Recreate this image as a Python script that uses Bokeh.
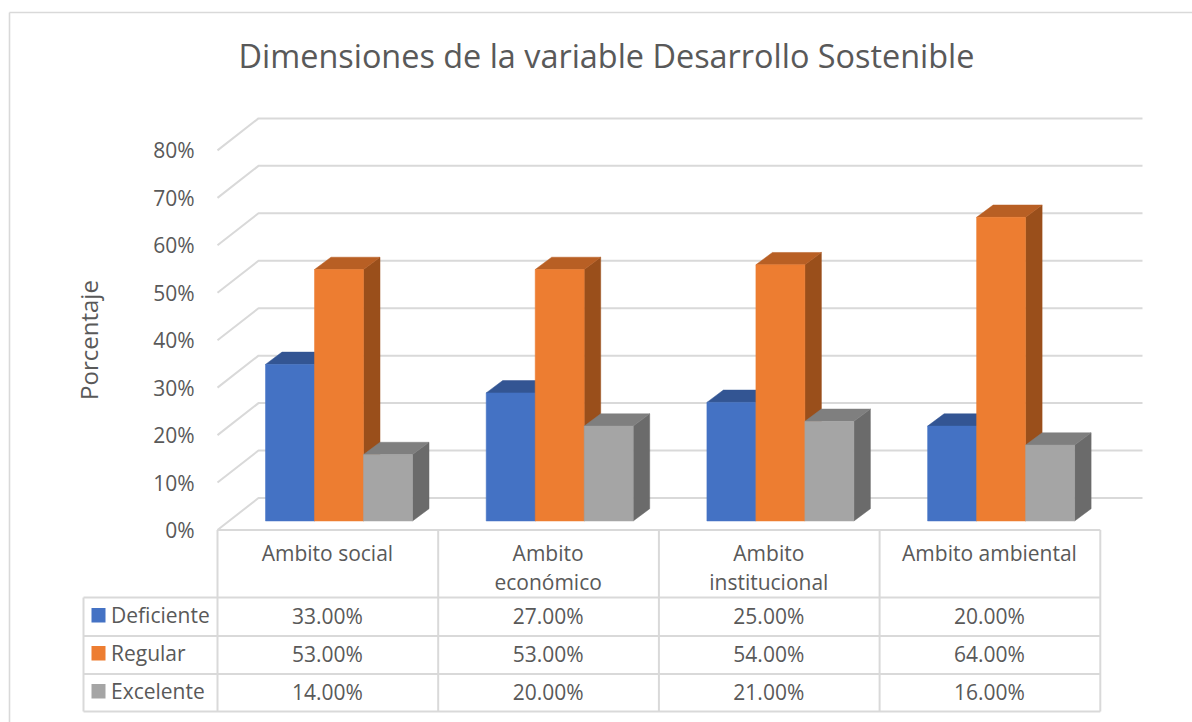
from math import pi
from bokeh.plotting import figure
from bokeh.models import FixedTicker, PrintfTickFormatter, Range1d
from bokeh.core.properties import value
from bokeh.embed import file_html
from bokeh.resources import INLINE

TITLE = "Dimensiones de la variable Desarrollo Sostenible"
Y_LABEL = "Porcentaje"
categories = ["Ambito social", "Ambito\neconómico", "Ambito\ninstitucional", "Ambito ambiental"]
series_names = ["Deficiente", "Regular", "Excelente"]
deficiente = [33, 27, 25, 20]
regular = [53, 53, 54, 64]
excelente = [14, 20, 21, 16]
y_ticks = [0, 10, 20, 30, 40, 50, 60, 70, 80]

FONT = "Open Sans"
TXT = "#595959"
GRID = "#D9D9D9"
front = ["#4472C4", "#ED7D31", "#A5A5A5"]
top_c = ["#335593", "#B85F24", "#7F7F7F"]
side_c = ["#2E4D85", "#9A4F1B", "#6B6B6B"]

W, H, OFF = 1192, 722, 0
CAT_PX = 220.7
PCT_PX = 4.745
X0_PX, Y0_PX = 217.0, 529.5


def dx(px):
    return (px - X0_PX) / CAT_PX


def dy(py):
    return (Y0_PX - py) / PCT_PX


p = figure(width=W, height=H, output_backend="svg", toolbar_location=None,
           x_range=Range1d(dx(OFF), dx(OFF + W)), y_range=Range1d(dy(OFF + H), dy(OFF)),
           min_border=0, outline_line_color=None, background_fill_color="white",
           border_fill_color="white")
p.xaxis.visible = False
p.grid.visible = False

# y axis placed on the front edge of the floor
ax = p.yaxis[0]
ax.fixed_location = 0
ax.ticker = FixedTicker(ticks=y_ticks)
ax.formatter = PrintfTickFormatter(format="%d%%")
ax.axis_line_color = None
ax.major_tick_line_color = None
ax.minor_tick_line_color = None
ax.major_tick_out = 0
ax.major_tick_in = 0
ax.major_label_standoff = 23
ax.major_label_text_font = FONT
ax.major_label_text_font_size = "21px"
ax.major_label_text_color = TXT

# chart border
p.multi_line([[dx(9), dx(9)], [dx(9), dx(OFF + W)]], [[dy(OFF + H), dy(12)], [dy(12), dy(12)]],
             line_color=GRID, line_width=1.6)

# depth of floor/wall
WALL_DX = dx(258) - dx(217)
WALL_DY = 32 / PCT_PX
BACK_END = dx(1142)
gx, gy = [], []
for t in y_ticks:
    gx.append([0, WALL_DX, BACK_END])
    gy.append([t, t + WALL_DY, t + WALL_DY])
p.multi_line(gx, gy, line_color=GRID, line_width=2)

# 3D bars
BAR_W = 49 / CAT_PX
BAR_START = 48 / CAT_PX
BASE = 9 / PCT_PX
D_X = 16.5 / CAT_PX
D_Y = 12.3 / PCT_PX
for s, vals in enumerate([deficiente, regular, excelente]):
    sx, sy, tx, ty, fx, fy = [], [], [], [], [], []
    for i, v in enumerate(vals):
        l = i + BAR_START + s * BAR_W
        r = l + BAR_W
        b = BASE
        t = BASE + v
        fx.append([l, r, r, l]); fy.append([b, b, t, t])
        tx.append([l, r, r + D_X, l + D_X]); ty.append([t, t, t + D_Y, t + D_Y])
        sx.append([r, r + D_X, r + D_X, r]); sy.append([b, b + D_Y, t + D_Y, t])
    p.patches(sx, sy, fill_color=side_c[s], line_color=side_c[s], line_width=0.5)
    p.patches(tx, ty, fill_color=top_c[s], line_color=top_c[s], line_width=0.5)
    p.patches(fx, fy, fill_color=front[s], line_color=front[s], line_width=0.5)

# data table
ROWS_PX = [597.0, 635.5, 673.5, 711.0]
LEFT_PX = 83.0
n = len(categories)
tx, ty = [[0, n]], [[0, 0]]
for r_py in ROWS_PX:
    tx.append([dx(LEFT_PX), n]); ty.append([dy(r_py), dy(r_py)])
for c in range(n + 1):
    tx.append([c, c]); ty.append([0, dy(ROWS_PX[-1])])
tx.append([dx(LEFT_PX), dx(LEFT_PX)]); ty.append([dy(ROWS_PX[0]), dy(ROWS_PX[-1])])
p.multi_line(tx, ty, line_color=GRID, line_width=2)

# category headers
hx, hy, ht = [], [], []
for i, c in enumerate(categories):
    for k, part in enumerate(c.split("\n")):
        hx.append(i + 0.5 - 0.002); hy.append(dy(552 + 29 * k)); ht.append(part)
p.text(x=hx, y=hy, text=ht, text_font=value(FONT), text_font_size="21px", text_color=TXT,
       text_align="center", text_baseline="middle")

# table values and legend keys
vx, vy, vt = [], [], []
row_c = [615, 653, 691]
for s, vals in enumerate([deficiente, regular, excelente]):
    for i, v in enumerate(vals):
        vx.append(i + 0.5 - 0.002); vy.append(dy(row_c[s])); vt.append(f"{v:.2f}%")
p.text(x=vx, y=vy, text=vt, text_font=value(FONT), text_font_size="21px", text_color=TXT,
       text_align="center", text_baseline="middle")

kx, ky = [], []
for s in range(3):
    t_, b_ = dy(row_c[s] - 7.5), dy(row_c[s] + 7)
    kx.append([dx(91), dx(105), dx(105), dx(91)]); ky.append([b_, b_, t_, t_])
p.patches(kx, ky, fill_color=front, line_color=None)
p.text(x=[dx(110.5)] * 3, y=[dy(c_ - 1) for c_ in row_c], text=series_names, text_font=value(FONT),
       text_font_size="21px", text_color=TXT, text_align="left", text_baseline="middle")

# axis title
p.text(x=[dx(87.5)], y=[dy(339.5)], text=[Y_LABEL], angle=pi / 2, text_font=value(FONT),
       text_font_size="24px", text_color=TXT, text_align="center", text_baseline="middle")

# title
p.text(x=[dx(606)], y=[dy(54.5)], text=[TITLE], text_font=value(FONT), text_font_size="32.4px",
       text_color=TXT, text_align="center", text_baseline="middle")

open("out.html", "w").write(file_html(p, INLINE))
